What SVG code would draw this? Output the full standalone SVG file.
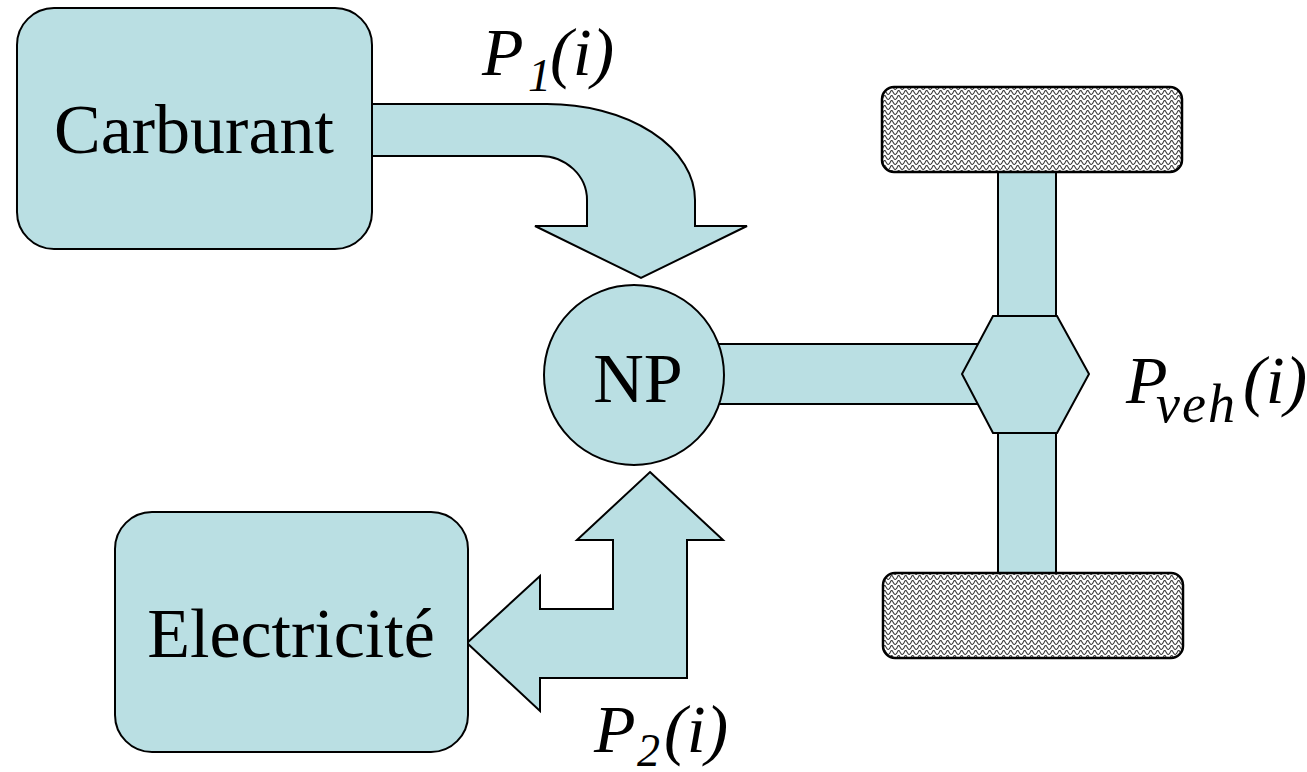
<svg xmlns="http://www.w3.org/2000/svg" width="1307" height="772" viewBox="0 0 1307 772">
  <defs>
    <pattern id="wave" patternUnits="userSpaceOnUse" width="7" height="5">
      <rect width="7" height="5" fill="#ffffff"/>
      <path d="M-0.5,4 Q0.6,4 1.75,1.2 Q2.9,-0.2 3.5,1.2 L5.25,4 Q5.9,4.8 7.5,4" fill="none" stroke="#3a3a3a" stroke-width="1.1"/>
    </pattern>
  </defs>
  <style>
    .shape { fill: #badfe3; stroke: #000; stroke-width: 2; stroke-linejoin: miter; }
    .wheel { fill: url(#wave); stroke: #000; stroke-width: 2.5; }
    .lbl { font-family: "Liberation Serif", "Times New Roman", serif; font-size: 70px; fill: #000; }
    .it { font-family: "Liberation Serif", "Times New Roman", serif; font-style: italic; fill: #000; }
  </style>
  <rect width="1307" height="772" fill="#ffffff"/>

  <g id="connectors">
    <path id="arrow-p1" class="shape" d="M372,104 L547,104 A148,96 0 0 1 695,200 L695,226 L747,226 L641,278 L535,226 L587,226 L587,200 A47,44 0 0 0 540,156 L372,156 Z"/>
    <path id="arrow-p2" class="shape" d="M650,472 L723,540 L687,540 L687,678 L540,678 L540,711 L467,643 L540,576 L540,609 L613,609 L613,540 L577,540 Z"/>
    <rect id="shaft-h" class="shape" x="700" y="344" width="282" height="60"/>
    <rect id="shaft-top" class="shape" x="998" y="165" width="58" height="155"/>
    <rect id="shaft-bottom" class="shape" x="998" y="428" width="58" height="150"/>
  </g>

  <g id="carburant">
    <rect class="shape" x="17" y="8" width="355" height="241" rx="37" ry="37"/>
    <text class="lbl" x="194" y="153" text-anchor="middle">Carburant</text>
  </g>

  <g id="electricite">
    <rect class="shape" x="115" y="512" width="353" height="240" rx="37" ry="37"/>
    <text class="lbl" x="291" y="657" text-anchor="middle">Electricité</text>
  </g>

  <g id="np">
    <circle class="shape" cx="634" cy="375" r="90"/>
    <text class="lbl" x="638" y="402" text-anchor="middle">NP</text>
  </g>

  <g id="hub">
    <polygon class="shape" points="993,316 1057,316 1089,374 1057,433 993,433 962,374"/>
  </g>

  <g id="wheel-top">
    <rect class="wheel" x="882" y="87" width="300" height="85" rx="12" ry="12"/>
  </g>

  <g id="wheel-bottom">
    <rect class="wheel" x="883" y="573" width="300" height="85" rx="12" ry="12"/>
  </g>

  <g id="labels">
    <text class="it" font-size="68" x="482" y="75">P<tspan x="528" y="91" font-size="46">1</tspan><tspan x="550" y="75" font-size="68">(i)</tspan></text>
    <text class="it" font-size="68" x="594" y="752">P<tspan x="637" y="766" font-size="46">2</tspan><tspan x="664" y="752" font-size="68">(i)</tspan></text>
    <text class="it" font-size="68" x="1126" y="403">P<tspan x="1156" y="422" font-size="54" letter-spacing="2">veh</tspan><tspan x="1243" y="403" font-size="68">(i)</tspan></text>
  </g>
</svg>
